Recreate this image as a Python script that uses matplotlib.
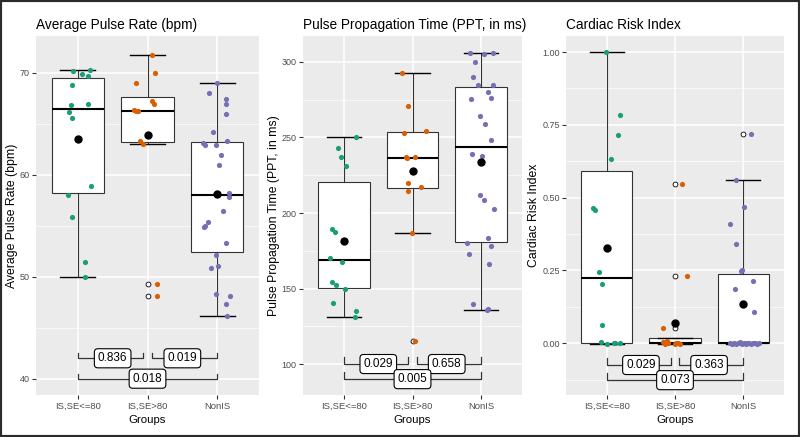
import numpy as np
import matplotlib
matplotlib.use('Agg')
import matplotlib.pyplot as plt
from matplotlib.patches import Rectangle
from matplotlib.ticker import MultipleLocator

plt.rcParams['font.family'] = ['Liberation Sans', 'DejaVu Sans']

groups = ['IS,SE<=80', 'IS,SE>80', 'NonIS']
colors = ['#1B9E77', '#D95F02', '#7570B3']

# Average Pulse Rate (bpm)
pulse_g1 = [70.2, 69.9, 70.3, 69.7, 68.8, 66.8, 66.9, 66.1, 65.6, 58.9, 58.0, 55.9, 51.4, 50.0]
pulse_g1_jit = [-0.07, 0.06, 0.17, 0.14, -0.09, -0.10, 0.14, -0.13, -0.09, 0.19, -0.14, -0.09, 0.11, 0.11]
pulse_g2 = [71.7, 70.0, 69.0, 67.2, 66.9, 66.3, 66.2, 66.2, 63.3, 63.0, 49.3, 48.1]
pulse_g2_jit = [0.07, 0.11, -0.17, 0.07, 0.10, -0.19, -0.16, -0.14, -0.11, -0.07, 0.14, 0.14]
pulse_g3 = [69.0, 68.0, 67.4, 66.9, 66.0, 64.2, 63.3, 63.1, 62.9, 62.9, 61.9, 61.0, 58.2,
            57.8, 56.4, 55.0, 55.4, 54.9, 53.3, 52.1, 50.9, 51.0, 48.3, 48.1, 47.3, 46.1]
pulse_g3_jit = [0.0, -0.12, 0.13, 0.13, 0.12, -0.06, 0.14, -0.20, -0.17, -0.02, 0.06, 0.02, 0.17,
                0.17, 0.08, -0.18, -0.13, -0.19, 0.13, -0.01, -0.09, 0.01, -0.01, 0.18, 0.13, 0.14]
pulse_p = ['0.836', '0.019', '0.018']

# Pulse Propagation Time (ms)
ppt_g1 = [250, 243, 237, 231, 189.4, 187.4, 170.2, 167.5, 154.3, 152.3, 149.7, 140.4, 135.1, 131.1]
ppt_g1_jit = [0.18, -0.09, -0.04, 0.03, -0.17, -0.13, -0.21, -0.03, -0.17, -0.12, 0.02, -0.16, 0.17, 0.16]
ppt_g2 = [292.7, 270.9, 254.3, 253, 237.1, 237, 236.5, 219.9, 217.2, 214.6, 186.8, 115.2]
ppt_g2_jit = [-0.16, -0.06, 0.20, -0.12, -0.09, 0.03, -0.08, -0.07, 0.12, -0.06, -0.01, 0.03]
ppt_g3 = [306, 306, 305, 300, 290, 284.8, 284.8, 280, 276, 275.5, 264.2, 258.9, 248.3,
          239.1, 237.7, 211.9, 208.6, 202.6, 183.4, 180.1, 178.1, 172.8, 166.2, 139.7, 135.8, 136.5]
ppt_g3_jit = [-0.16, 0.18, 0.04, -0.09, -0.11, -0.05, 0.17, 0.10, 0.15, -0.14, -0.01, 0.06, 0.14,
              -0.13, 0.01, -0.02, 0.05, 0.19, 0.10, -0.21, 0.15, -0.18, 0.12, -0.12, 0.09, 0.10]
ppt_p = ['0.029', '0.658', '0.005']

# Cardiac Risk Index
cri_g1 = [1.0, 0.784, 0.716, 0.634, 0.463, 0.459, 0.243, 0.202, 0.062, 0.003, -0.003, 0.0, 0.0, 0.0]
cri_g1_jit = [-0.02, 0.19, 0.17, 0.06, -0.21, -0.18, -0.12, -0.07, -0.07, -0.09, 0.0, 0.11, 0.19, 0.12]
cri_g2 = [0.548, 0.229, 0.051, 0.005, -0.003, 0.008, 0.0, -0.003, 0.0, -0.002, 0.003, 0.0]
cri_g2_jit = [0.11, 0.17, -0.17, -0.17, -0.15, -0.12, -0.10, 0.0, 0.02, 0.08, -0.13, 0.05]
cri_g3 = [0.72, 0.562, 0.469, 0.411, 0.339, 0.253, 0.247, 0.212, 0.185, 0.106,
          0.0, -0.004, 0.002, -0.003, 0.0, 0.003, -0.002, 0.0, -0.004, 0.001, 0.0, -0.003, 0.002, 0.0, -0.002, 0.0]
cri_g3_jit = [0.12, -0.11, 0.02, -0.19, -0.11, -0.01, -0.03, 0.14, -0.12, 0.16,
              -0.20, -0.17, -0.14, -0.11, -0.08, -0.05, -0.02, 0.01, 0.04, 0.06, 0.09, 0.12, 0.15, 0.18, 0.21, 0.23]
cri_p = ['0.029', '0.363', '0.073']

panels = [
    dict(title='Average Pulse Rate (bpm)', ylabel='Average Pulse Rate (bpm)',
         values=[pulse_g1, pulse_g2, pulse_g3], jit=[pulse_g1_jit, pulse_g2_jit, pulse_g3_jit],
         pvals=pulse_p, ylim=(38.4, 73.6), major=10, minor=5, fmt='{:.0f}',
         by=(42, 40), leg=0.5, left=36, width=223, ylab_x=18),
    dict(title='Pulse Propagation Time (PPT, in ms)', ylabel='Pulse Propagation Time (PPT, in ms)',
         values=[ppt_g1, ppt_g2, ppt_g3], jit=[ppt_g1_jit, ppt_g2_jit, ppt_g3_jit],
         pvals=ppt_p, ylim=(79.5, 317.2), major=50, minor=25, fmt='{:.0f}',
         by=(100, 90), leg=4.6, left=303, width=219, ylab_x=280),
    dict(title='Cardiac Risk Index', ylabel='Cardiac Risk Index',
         values=[cri_g1, cri_g2, cri_g3], jit=[cri_g1_jit, cri_g2_jit, cri_g3_jit],
         pvals=cri_p, ylim=(-0.178, 1.055), major=0.25, minor=0.125, fmt='{:.2f}',
         by=(-0.075, -0.127), leg=0.025, left=566, width=218, ylab_x=540),
]

W, H = 800, 437
fig = plt.figure(figsize=(W / 100, H / 100), dpi=100)
fig.add_artist(Rectangle((0, 0), 1, 1, transform=fig.transFigure, fill=False,
                         edgecolor='#2b2b2b', lw=3))

for p in panels:
    ax = fig.add_axes([p['left'] / W, 1 - 395 / H, p['width'] / W, 359 / H])
    ax.set_facecolor('#EBEBEB')
    for s in ax.spines.values():
        s.set_visible(False)

    ax.boxplot(p['values'], positions=[1, 2, 3], widths=0.75, patch_artist=True,
               whis=1.5, capwidths=0.5, showmeans=False, manage_ticks=False, zorder=2,
               boxprops=dict(facecolor='white', edgecolor='#333333', lw=0.8),
               whiskerprops=dict(color='#333333', lw=0.8),
               capprops=dict(color='black', lw=1.0),
               medianprops=dict(color='black', lw=1.5),
               flierprops=dict(marker='o', markerfacecolor='white', markeredgecolor='black',
                               markersize=3.5, markeredgewidth=0.6))
    for i, (vals, jit) in enumerate(zip(p['values'], p['jit'])):
        ax.scatter(i + 1 + np.array(jit), vals, s=14, color=colors[i], linewidths=0, zorder=3)
    # group means on top of the points
    for i, vals in enumerate(p['values']):
        ax.plot(i + 1, np.mean(vals), 'o', color='black', markersize=5, zorder=4)

    ax.set_xlim(0.4, 3.6)
    ax.set_ylim(*p['ylim'])
    ax.yaxis.set_major_locator(MultipleLocator(p['major']))
    ax.yaxis.set_minor_locator(MultipleLocator(p['minor']))
    ticks = [t for t in ax.get_yticks() if p['ylim'][0] <= t <= p['ylim'][1]]
    ax.set_yticks(ticks)
    ax.set_yticklabels([p['fmt'].format(t) for t in ticks])
    ax.set_xticks([1, 2, 3])
    ax.set_xticklabels(groups)
    ax.grid(which='major', color='white', lw=1.1)
    ax.grid(which='minor', axis='y', color='white', lw=0.5)
    ax.tick_params(which='minor', length=0)
    ax.tick_params(which='major', length=3, color='#333333', labelcolor='#4D4D4D',
                   labelsize=6.5, pad=1.5)
    ax.tick_params(axis='x', labelsize=6.8, pad=2)
    ax.set_axisbelow(True)

    y_up, y_low = p['by']
    leg = p['leg']
    spans = [(1, 1.94, y_up, 1.5), (2.06, 3, y_up, 2.5), (1, 3, y_low, 2.0)]
    for (x0, x1, y, xm), lab in zip(spans, p['pvals']):
        ax.plot([x0, x0, x1, x1], [y + leg, y, y, y + leg], color='#333333', lw=0.9, zorder=5)
        ax.text(xm, y, lab, ha='center', va='center', fontsize=8.5, zorder=6,
                bbox=dict(boxstyle='round,pad=0.3', fc='white', ec='black', lw=0.8))

    ax.set_title(p['title'], loc='left', fontsize=9.8, pad=5)
    ax.set_ylabel(p['ylabel'], fontsize=8.8)
    ax.yaxis.set_label_coords((p['ylab_x'] - p['left']) / p['width'], 0.5)
    ax.set_xlabel('Groups', fontsize=8.2, labelpad=3)

fig.savefig('out.png', dpi=100)
